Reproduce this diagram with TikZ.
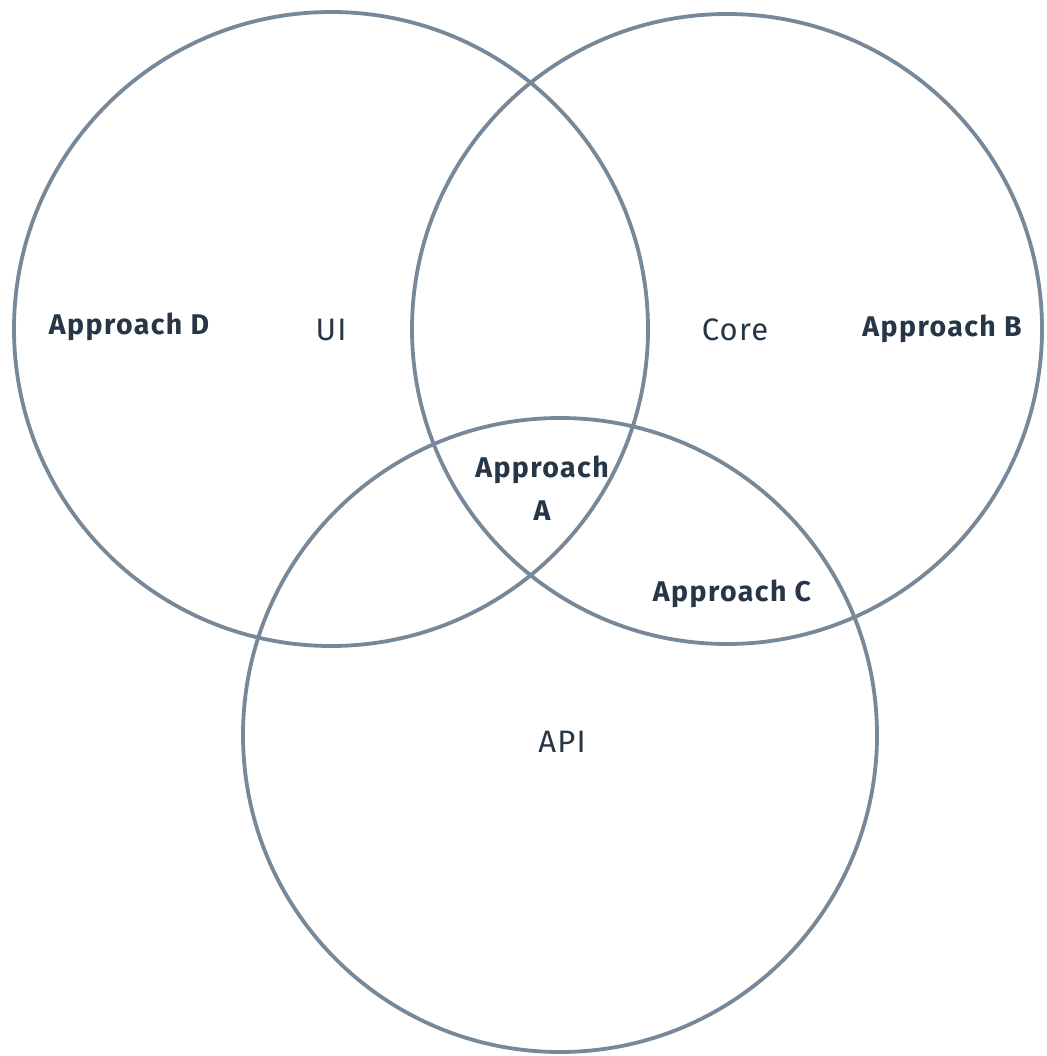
\documentclass[tikz,border=0pt]{standalone}
\usepackage{fontspec}
\setmainfont{Fira Sans}
\newfontfamily\labelbold[LetterSpace=5]{Fira Sans}
\newfontfamily\labelreg[LetterSpace=4]{Fira Sans}
\definecolor{ringcol}{HTML}{778899}
\definecolor{inkcol}{HTML}{263646}
\tikzset{
  ring/.style={draw=ringcol, line width=3.8pt, circle, inner sep=0pt},
  setname/.style={text=inkcol, font=\labelreg\fontsize{31}{34}\selectfont},
  approach/.style={text=inkcol, font=\labelbold\bfseries\fontsize{28.5}{43}\selectfont, align=center},
}
\begin{document}
\begin{tikzpicture}[x=1pt, y=-1pt]
  \useasboundingbox (0,0) rectangle (1046,1056);
  % the three sets
  \node[ring, minimum size=634pt] (ui)   at (331,329) {};
  \node[ring, minimum size=630pt] (core) at (727,329) {};
  \node[ring, minimum size=634pt] (api)  at (560,735) {};
  % set names
  \node[setname] (uiname)   at (331,330) {UI};
  \node[setname] (corename) at (735,330) {Core};
  \node[setname] (apiname)  at (562,742) {API};
  % approaches placed in their regions
  \node[approach] (appd) at (129,327) {Approach D};
  \node[approach] (appb) at (942,329) {Approach B};
  \node[approach] (appa) at (542,488) {Approach\\A};
  \node[approach] (appc) at (732,594) {Approach C};
\end{tikzpicture}
\end{document}
